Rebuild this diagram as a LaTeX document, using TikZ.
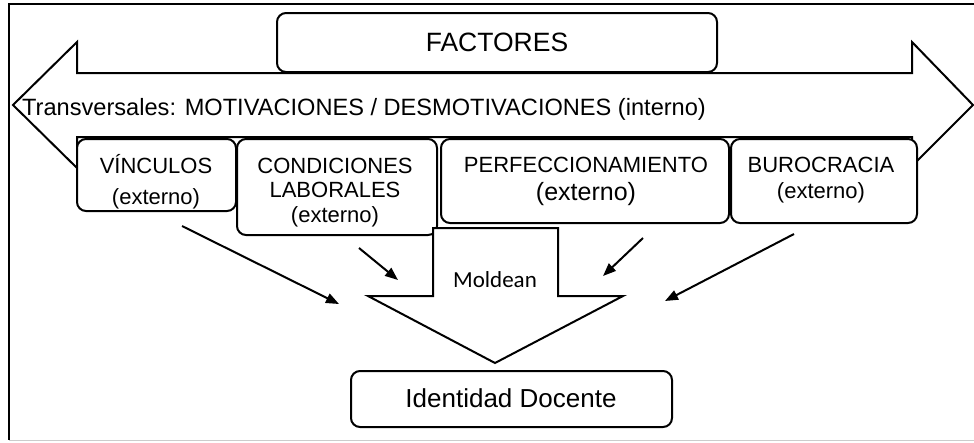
\documentclass[tikz,border=0pt]{standalone}
\usepackage{fontspec}
\setmainfont{Liberation Sans}
\newfontfamily\moldfont{Carlito}
\usetikzlibrary{arrows.meta}
\tikzset{
  outl/.style={draw=black, line width=2pt, line join=miter},
  rbox/.style={draw=black, line width=2pt, fill=white, rounded corners=9pt, inner sep=0pt},
  lbl/.style={align=center, anchor=base, inner sep=0pt},
  fs22/.style={font=\fontsize{22}{31}\selectfont},
  inarrow/.style={line width=2pt, -{Triangle[length=13pt,width=10pt]}}
}
\begin{document}
\begin{tikzpicture}[x=1pt,y=-1pt]
\useasboundingbox (0,0) rectangle (974,442);
\fill[white] (0,0) rectangle (974,442);
% frame
\draw[line width=2pt] (974,4) -- (9,4) -- (9,440);
\draw[line width=1pt, black!20] (9,440) -- (974,440);
% double arrow
\draw[outl, fill=white] (13,105) -- (77,42) -- (77,73) -- (912,73) -- (912,42) -- (973,105)
  -- (912,166) -- (912,137) -- (77,137) -- (77,168) -- cycle;
% FACTORES
\node[rbox, minimum width=440pt, minimum height=59pt] (fac) at (497,42.5) {};
\node[lbl, font=\fontsize{26.5}{30}\selectfont] (facT) at (497,51) {FACTORES};
% transversal text
\node[anchor=base west, inner sep=0pt, font=\fontsize{23.6}{28}\selectfont] (trans) at (22,115)
  {Transversales: MOTIVACIONES / DESMOTIVACIONES (interno)};
% factor boxes
\node[rbox, minimum width=159pt, minimum height=72pt] (vin) at (156.5,175) {};
\node[rbox, minimum width=200pt, minimum height=96pt] (con) at (337,187) {};
\node[rbox, minimum width=288pt, minimum height=84pt] (per) at (585,181) {};
\node[rbox, minimum width=186pt, minimum height=84pt] (bur) at (824,181) {};
\node[lbl, fs22] (vinT) at (156,204) {VÍNCULOS\\(externo)};
\node[lbl, font=\fontsize{22}{24.5}\selectfont] (conT) at (335,222) {CONDICIONES\\LABORALES\\(externo)};
\node[lbl, font=\fontsize{22}{28}\selectfont] (perT) at (586,200) {PERFECCIONAMIENTO\\{\fontsize{25}{28}\selectfont(externo)}};
\node[lbl, font=\fontsize{22}{26}\selectfont] (burT) at (821,198) {BUROCRACIA\\(externo)};
% Moldean arrow
\draw[outl, fill=white] (433,228) -- (558,228) -- (558,296) -- (623,296) -- (495,363)
  -- (368,296) -- (433,296) -- cycle;
\node[lbl, font=\moldfont\fontsize{23}{28}\selectfont] (mold) at (495,287) {Moldean};
% Identidad Docente
\node[rbox, minimum width=321pt, minimum height=56pt] (id) at (511.5,399) {};
\node[lbl, font=\fontsize{26}{30}\selectfont] (idT) at (511,407) {Identidad Docente};
% influence arrows
\coordinate (a1s) at (182,226); \coordinate (a1e) at (339,304);
\coordinate (a2s) at (359,248); \coordinate (a2e) at (398,280);
\coordinate (a3s) at (643,238); \coordinate (a3e) at (603,276);
\coordinate (a4s) at (794,234); \coordinate (a4e) at (665,301);
\draw[inarrow] (a1s) -- (a1e);
\draw[inarrow] (a2s) -- (a2e);
\draw[inarrow] (a3s) -- (a3e);
\draw[inarrow] (a4s) -- (a4e);
\end{tikzpicture}
\end{document}
